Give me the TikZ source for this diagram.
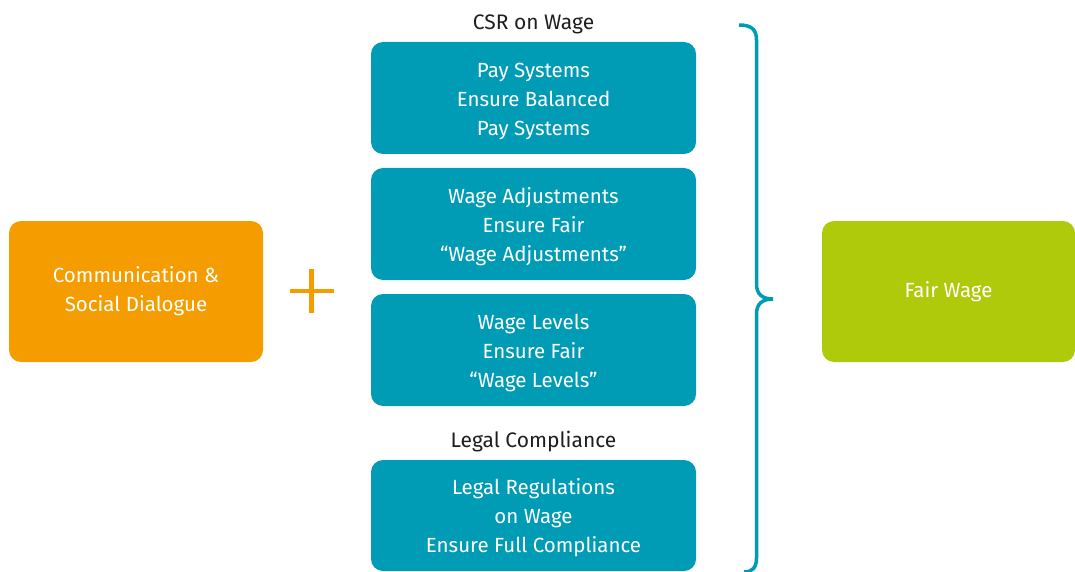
\documentclass[tikz,border=0pt]{standalone}
\usepackage{fontspec}
\setmainfont{Fira Sans}
\definecolor{orng}{HTML}{F59C00}
\definecolor{tealb}{HTML}{009BB4}
\definecolor{lime}{HTML}{AFCA0B}
\definecolor{dark}{HTML}{1E1E1E}
% testo dei riquadri, abbassato di poco
\newcommand{\boxtext}[1]{\raisebox{-2.5pt}[\height][\depth]{\begin{tabular}{@{}c@{}}#1\end{tabular}}}
\begin{document}
\begin{tikzpicture}[x=1pt,y=-1pt,
    box/.style={rectangle,rounded corners=12pt,align=center,text=white,
      font=\fontsize{20.5}{29}\selectfont,inner sep=0pt},
    csrbox/.style={box,fill=tealb,minimum width=325pt,minimum height=112pt},
    head/.style={text=dark,font=\fontsize{21}{24}\selectfont}]
    \useasboundingbox (0,0) rectangle (1075,572);
    \node[box,fill=orng,minimum width=254pt,minimum height=141pt] (comm) at (136,291.5) {Communication \&\\Social Dialogue};
    \draw[orng,line width=4.5pt] (289.5,291) -- (333.5,291); %segno piu
    \draw[orng,line width=4.5pt] (311.5,269) -- (311.5,313);
    \node[head] (csr) at (533.5,24.5) {CSR on Wage};
    \node[csrbox] (pay) at (533.5,98) {\boxtext{Pay Systems\\Ensure Balanced\\Pay Systems}};
    \node[csrbox] (adj) at (533.5,224) {\boxtext{Wage Adjustments\\Ensure Fair\\“Wage Adjustments”}};
    \node[csrbox] (lev) at (533.5,350) {\boxtext{Wage Levels\\Ensure Fair\\“Wage Levels”}};
    \node[head] (legal) at (533.5,442) {Legal Compliance};
    \node[csrbox,minimum height=111pt] (reg) at (533.5,515.5) {\boxtext{Legal Regulations\\on Wage\\Ensure Full Compliance}};
    \draw[tealb,line width=3.5pt] (739,25) .. controls (752,25) and (756.5,30) .. (756.5,40)
      -- (756.5,284) .. controls (756.5,294) and (762,299) .. (773,299)
      .. controls (762,299) and (756.5,304) .. (756.5,314)
      -- (756.5,558) .. controls (756.5,568) and (752,572) .. (744,572); %parentesi graffa
    \node[box,fill=lime,minimum width=253pt,minimum height=141pt] (fair) at (948.5,291.5) {Fair Wage};
\end{tikzpicture}
\end{document}
